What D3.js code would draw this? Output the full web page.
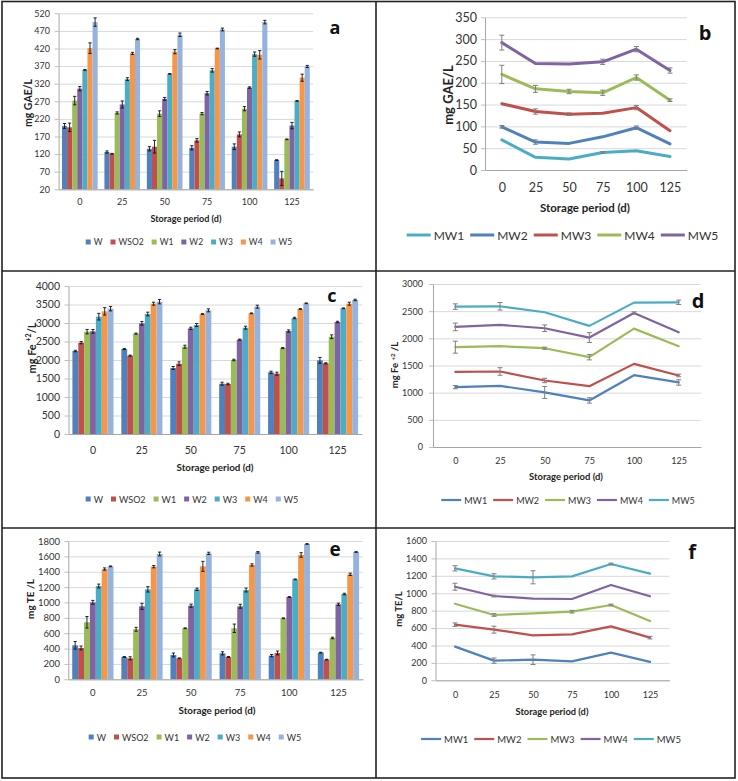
<!DOCTYPE html>
<html><head><meta charset="utf-8">
<script src="https://cdn.jsdelivr.net/npm/d3@7"></script>
<style>body{margin:0;background:#fff}</style>
</head><body>
<svg id="chart" width="738" height="781"></svg>
<script>
// ---------------- DATA ----------------
const categories = ["0","25","50","75","100","125"];
const barSeries = ["W","WSO2","W1","W2","W3","W4","W5"];
const lineSeries = ["MW1","MW2","MW3","MW4","MW5"];

// panel a : mg GAE/L (bars)
const gaeBarValues = [
  [200,126,135,138,141,103],
  [196,121,141,159,176,51],
  [272,237,235,235,249,162],
  [306,261,277,293,309,201],
  [359,333,348,358,404,271],
  [421,406,411,420,402,337],
  [495,447,459,474,495,369]
];
const gaeBarErrors = [
  [7,3,6,6,8,1],
  [12,1,18,5,7,20],
  [12,3,8,3,6,1],
  [6,10,4,5,2,9],
  [1,4,1,5,6,1],
  [15,3,6,1,12,10],
  [12,2,5,4,5,3]
];
// panel b : mg GAE/L (lines)
const gaeLineValues = [
  [69,29,25,40,44,31],
  [99,64,61,76,97,60],
  [152,134,128,130,143,90],
  [219,186,180,177,212,160],
  [292,244,243,248,277,228]
];
const gaeLineErrors = [
  [1,1,0,2,0,0],
  [3,5,1,0,4,0],
  [1,6,3,0,5,0],
  [21,8,5,6,6,3],
  [17,1,1,6,6,6]
];
// panel c : mg Fe+2/L (bars)
const feBarValues = [
  [2243,2297,1784,1360,1667,1990],
  [2468,2117,1901,1351,1631,1910],
  [2766,2712,2360,2000,2324,2630],
  [2775,2991,2856,2550,2784,3027],
  [3171,3243,2946,2874,3135,3397],
  [3315,3522,3243,3261,3378,3522],
  [3387,3577,3342,3441,3532,3622]
];
const feBarErrors = [
  [20,15,40,40,30,80],
  [30,15,50,20,40,15],
  [60,15,40,20,15,50],
  [50,50,30,15,30,20],
  [90,50,40,40,20,10],
  [100,40,10,10,10,40],
  [60,60,40,40,10,20]
];
// panel d : mg Fe+2/L (lines)
const feLineValues = [
  [1102,1126,1004,857,1322,1188],
  [1384,1390,1224,1120,1530,1316],
  [1837,1855,1818,1653,2179,1855],
  [2210,2247,2186,2014,2467,2112],
  [2584,2590,2480,2229,2657,2663]
];
const feLineErrors = [
  [30,10,110,50,10,50],
  [5,70,40,10,10,25],
  [110,5,20,50,10,5],
  [70,10,60,90,20,5],
  [50,70,5,5,5,40]
];
// panel e : mg TE/L (bars)
const teBarValues = [
  [442,291,317,338,308,347],
  [408,273,273,291,343,256],
  [742,651,664,664,794,538],
  [1002,950,958,950,1071,976],
  [1214,1171,1171,1162,1301,1110],
  [1435,1466,1470,1488,1618,1366],
  [1470,1631,1639,1652,1761,1657]
];
const teBarErrors = [
  [50,5,25,20,15,5],
  [25,20,5,5,25,5],
  [75,25,5,55,5,10],
  [25,40,20,25,5,15],
  [25,35,15,25,5,10],
  [15,15,65,15,30,15],
  [5,25,15,10,5,5]
];
// panel f : mg TE/L (lines)
const teLineValues = [
  [387,226,237,218,318,211],
  [639,582,517,528,620,490],
  [880,750,769,788,865,681],
  [1075,968,938,934,1095,965],
  [1286,1194,1183,1194,1336,1225]
];
const teLineErrors = [
  [5,30,55,5,5,5],
  [20,40,5,5,5,15],
  [5,15,5,15,10,5],
  [40,10,5,5,5,5],
  [30,30,75,5,10,5]
];

// ---------------- STYLE ----------------
const FONT = "Lato, 'Open Sans', sans-serif";
const barColors = ["#4F81BD","#C0504D","#9BBB59","#8064A2","#4BACC6","#F79646","#95B3DC"];
const lineColorsB = ["#4BACC6","#4F81BD","#C0504D","#9BBB59","#8064A2"];
const lineColorsDF = ["#4F81BD","#C0504D","#9BBB59","#8064A2","#4BACC6"];

const svg = d3.select("#chart");
svg.append("rect").attr("width",738).attr("height",781).attr("fill","#fff");

function measure(txt, fs, weight) {
  const t = svg.append("text").attr("font-family",FONT).attr("font-size",fs)
    .attr("font-weight",weight||"normal").text(txt);
  const w = t.node().getComputedTextLength();
  t.remove();
  return w;
}

function yAxes(g, p, y, ticks) {
  g.append("g").attr("transform",`translate(${p.l},0)`)
    .call(d3.axisLeft(y).tickValues(ticks).tickSize(-(p.r - p.l)).tickFormat(""))
    .call(s => { s.select(".domain").remove(); s.selectAll("line").attr("stroke","#d9d9d9"); });
  const yPad = p.l - p.yLabelRight - 4;
  g.append("g").attr("transform",`translate(${p.l},0)`)
    .call(d3.axisLeft(y).tickValues(ticks).tickFormat(d3.format("d")).tickSize(4).tickSizeOuter(0).tickPadding(yPad))
    .call(s => {
      s.select(".domain").attr("stroke","#a6a6a6");
      s.selectAll(".tick line").attr("stroke","#bfbfbf");
      s.selectAll("text").attr("font-size",p.tickFs).attr("font-family",FONT).attr("fill","#333");
    });
}

function xAxis(g, p, x) {
  const pad = p.xLabelY - p.b - 0.35*p.tickFs;
  g.append("g").attr("transform",`translate(0,${p.b})`)
    .call(d3.axisBottom(x).tickSize(0).tickSizeOuter(0).tickPadding(pad))
    .call(s => {
      s.select(".domain").attr("stroke","#a6a6a6");
      s.selectAll("text").attr("font-size",p.tickFs).attr("font-family",FONT).attr("fill","#333");
    });
}

function titles(g, p) {
  const w10 = measure(p.xTitle, 10, "bold");
  const fsx = 10 * p.titleW / w10;
  g.append("text").attr("x",p.titleCx).attr("y",p.titleY).attr("text-anchor","middle")
    .attr("dominant-baseline","central").attr("font-family",FONT).attr("font-weight","bold")
    .attr("font-size",fsx).attr("fill","#222").text(p.xTitle);
  const t = g.append("text").attr("transform",`translate(${p.yTitleX},${p.yTitleCy}) rotate(-90)`)
    .attr("text-anchor","middle")
    .attr("font-family",FONT).attr("font-weight","bold").attr("font-size",p.yTitleFs).attr("fill","#222");
  p.yTitle.forEach(part => {
    const ts = t.append("tspan").text(part.t);
    if (part.sup) ts.attr("font-size", p.yTitleFs*0.65).attr("dy", -p.yTitleFs*0.4);
    else if (part.after) ts.attr("dy", p.yTitleFs*0.4);
  });
  t.attr("dy", p.yTitleFs*0.35);
  g.append("text").attr("x",p.letter[0]).attr("y",p.letter[1]).attr("text-anchor","middle")
    .attr("dominant-baseline","central").attr("font-family","'Open Sans', Lato, sans-serif")
    .attr("font-weight","bold").attr("font-size",p.letterFs).attr("fill","#111").text(p.letterText);
}

function legend(g, p, names, colors, type) {
  const mW = type === "bar" ? 5 : p.lineMarkerW;
  const gap1 = 3, gap2 = type === "bar" ? 8 : 6;
  const fs = p.legendFs;
  const tw = names.map(n => measure(n, fs));
  const total = names.length*(mW+gap1) + (names.length-1)*gap2 + d3.sum(tw);
  let x = p.legendCx - total/2;
  names.forEach((n,i) => {
    if (type === "bar") {
      g.append("rect").attr("x",x).attr("y",p.legendY-2.5).attr("width",mW).attr("height",5).attr("fill",colors[i]);
    } else {
      g.append("line").attr("x1",x).attr("x2",x+mW).attr("y1",p.legendY).attr("y2",p.legendY)
        .attr("stroke",colors[i]).attr("stroke-width",p.lineW);
    }
    g.append("text").attr("x",x+mW+gap1).attr("y",p.legendY).attr("dominant-baseline","central")
      .attr("font-family",FONT).attr("font-size",fs).attr("fill","#333").text(n);
    x += mW + gap1 + tw[i] + gap2;
  });
}

function barPanel(p, values, errors) {
  const g = svg.append("g");
  const x = d3.scaleBand().domain(categories).range([p.l, p.r]);
  const inset = x.bandwidth()*0.08;
  const xs = d3.scaleBand().domain(barSeries).range([inset, x.bandwidth()-inset]);
  const y = d3.scaleLinear().domain(p.domain).range([p.b, p.t]);
  const ticks = d3.range(p.domain[0], p.domain[1]+1e-9, p.step);
  yAxes(g, p, y, ticks);
  const cells = [];
  barSeries.forEach((s,i) => categories.forEach((c,j) =>
    cells.push({s, c, i, v: values[i][j], e: errors[i][j]})));
  g.selectAll("rect.bar").data(cells).join("rect").attr("class","bar")
    .attr("x", d => x(d.c) + xs(d.s)).attr("width", xs.bandwidth())
    .attr("y", d => y(d.v)).attr("height", d => y(p.domain[0]) - y(d.v))
    .attr("fill", d => barColors[d.i]);
  const eg = g.append("g").attr("stroke","#111").attr("stroke-width",0.9);
  cells.forEach(d => {
    const cx = x(d.c) + xs(d.s) + xs.bandwidth()/2;
    const lo = Math.max(d.v - d.e, p.domain[0]);
    eg.append("line").attr("x1",cx).attr("x2",cx).attr("y1",y(lo)).attr("y2",y(d.v+d.e));
    eg.append("line").attr("x1",cx-1.6).attr("x2",cx+1.6).attr("y1",y(d.v+d.e)).attr("y2",y(d.v+d.e));
    eg.append("line").attr("x1",cx-1.6).attr("x2",cx+1.6).attr("y1",y(lo)).attr("y2",y(lo));
  });
  xAxis(g, p, x);
  titles(g, p);
  legend(g, p, barSeries, barColors, "bar");
}

function linePanel(p, values, errors, colors) {
  const g = svg.append("g");
  const x = d3.scalePoint().domain(categories).range([p.l, p.r]).padding(0.5);
  const y = d3.scaleLinear().domain(p.domain).range([p.b, p.t]);
  const ticks = d3.range(p.domain[0], p.domain[1]+1e-9, p.step);
  yAxes(g, p, y, ticks);
  const line = d3.line().x((d,j) => x(categories[j])).y(d => y(d));
  lineSeries.forEach((s,i) => {
    g.append("path").datum(values[i]).attr("d", line).attr("fill","none")
      .attr("stroke", colors[i]).attr("stroke-width", p.lineW)
      .attr("stroke-linejoin","round").attr("stroke-linecap","round");
  });
  const eg = g.append("g").attr("stroke","#7f7f7f").attr("stroke-width",1);
  lineSeries.forEach((s,i) => categories.forEach((c,j) => {
    const v = values[i][j], e = errors[i][j];
    if (e < 2 * (p.domain[1]/350)) return;
    const cx = x(c);
    eg.append("line").attr("x1",cx).attr("x2",cx).attr("y1",y(v-e)).attr("y2",y(v+e));
    eg.append("line").attr("x1",cx-2.5).attr("x2",cx+2.5).attr("y1",y(v+e)).attr("y2",y(v+e));
    eg.append("line").attr("x1",cx-2.5).attr("x2",cx+2.5).attr("y1",y(v-e)).attr("y2",y(v-e));
  }));
  xAxis(g, p, x);
  titles(g, p);
  legend(g, p, lineSeries, colors, "line");
}

const XT = "Storage period (d)";

barPanel({l:58.6, r:313.2, t:13.3, b:189.3, domain:[20,520], step:50, yLabelRight:50, tickFs:9,
  xLabelY:202, titleY:218, titleCx:186, titleW:71, xTitle:XT,
  yTitleX:28, yTitleCy:103, yTitleFs:10.5, yTitle:[{t:"mg GAE/L"}],
  legendY:242, legendCx:189, legendFs:8.5, letter:[335,27], letterFs:18, letterText:"a"},
  gaeBarValues, gaeBarErrors);

linePanel({l:485, r:686.8, t:17.3, b:170, domain:[0,350], step:50, yLabelRight:477, tickFs:12.5,
  xLabelY:187, titleY:207, titleCx:585, titleW:90, xTitle:XT,
  yTitleX:448, yTitleCy:95, yTitleFs:13, yTitle:[{t:"mg GAE/L"}],
  legendY:235, legendCx:562.5, legendFs:12, lineMarkerW:24, lineW:3,
  letter:[705,32], letterFs:20, letterText:"b"},
  gaeLineValues, gaeLineErrors, lineColorsB);

barPanel({l:68.5, r:362, t:286, b:434, domain:[0,4000], step:500, yLabelRight:60, tickFs:10.5,
  xLabelY:450, titleY:467, titleCx:215, titleW:77, xTitle:XT,
  yTitleX:32, yTitleCy:348, yTitleFs:11, yTitle:[{t:"mg Fe "},{t:"+2",sup:true},{t:"/L",after:true}],
  legendY:499, legendCx:192, legendFs:9, letter:[332,295], letterFs:18, letterText:"c"},
  feBarValues, feBarErrors);

linePanel({l:433, r:701, t:284, b:447, domain:[0,3000], step:500, yLabelRight:423, tickFs:9,
  xLabelY:461, titleY:476, titleCx:566, titleW:74, xTitle:XT,
  yTitleX:395, yTitleCy:365, yTitleFs:9.5, yTitle:[{t:"mg Fe "},{t:"+2",sup:true},{t:" /L",after:true}],
  legendY:500, legendCx:568, legendFs:9, lineMarkerW:20, lineW:2.2,
  letter:[698,300], letterFs:20, letterText:"d"},
  feLineValues, feLineErrors, lineColorsDF);

barPanel({l:68.3, r:363, t:541, b:679.3, domain:[0,1800], step:200, yLabelRight:60, tickFs:9.5,
  xLabelY:693, titleY:710, titleCx:217, titleW:77, xTitle:XT,
  yTitleX:30, yTitleCy:599, yTitleFs:10, yTitle:[{t:"mg TE /L"}],
  legendY:737, legendCx:195, legendFs:9, letter:[335,549], letterFs:19, letterText:"e"},
  teBarValues, teBarErrors);

linePanel({l:435.5, r:669.5, t:541, b:680.3, domain:[0,1600], step:200, yLabelRight:427, tickFs:9,
  xLabelY:695, titleY:711, titleCx:552, titleW:73, xTitle:XT,
  yTitleX:399, yTitleCy:609, yTitleFs:9.5, yTitle:[{t:"mg TE/L"}],
  legendY:739, legendCx:551, legendFs:9.5, lineMarkerW:20, lineW:2.2,
  letter:[692,551], letterFs:20, letterText:"f"},
  teLineValues, teLineErrors, lineColorsDF);

// frame / table grid
const fr = svg.append("g").attr("stroke","#222").attr("stroke-width",1.6).attr("fill","none");
fr.append("rect").attr("x",2).attr("y",1.5).attr("width",733).attr("height",776.5);
fr.append("line").attr("x1",376).attr("x2",376).attr("y1",1.5).attr("y2",778);
fr.append("line").attr("x1",2).attr("x2",735).attr("y1",271).attr("y2",271);
fr.append("line").attr("x1",2).attr("x2",735).attr("y1",528).attr("y2",528);
</script>
</body></html>
